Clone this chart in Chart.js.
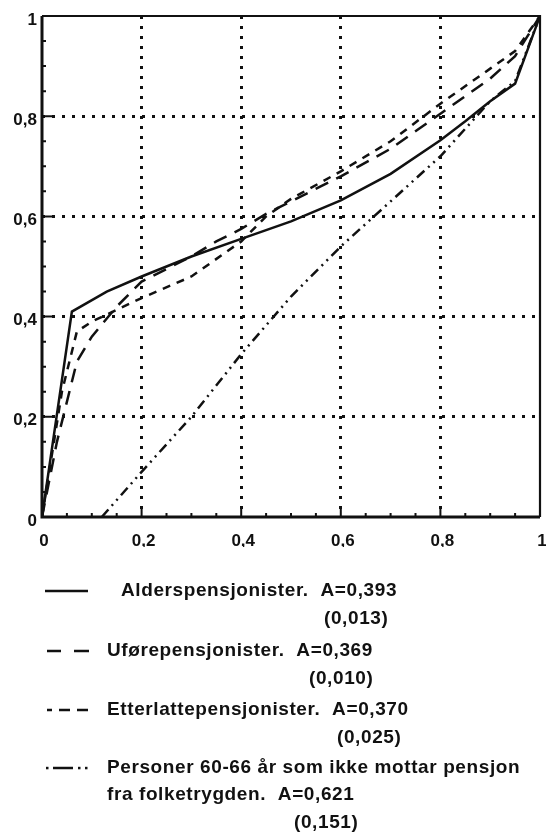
<!DOCTYPE html>
<html>
<head>
<meta charset="utf-8">
<script src="https://cdn.jsdelivr.net/npm/chart.js@4"></script>
<style>
  html, body { margin: 0; padding: 0; background: #fff; }
  #chart { display: block; }
</style>
</head>
<body>
<canvas id="chart" width="546" height="833"></canvas>
<script>
// tick labels (Norwegian decimal comma)
const tickLabels = ['0', '0,2', '0,4', '0,6', '0,8', '1'];

// Lorenz curves
const alderX = [0, 0.06, 0.13, 0.2, 0.3, 0.4, 0.5, 0.6, 0.7, 0.8, 0.85, 0.9, 0.95, 1];
const alderY = [0, 0.41, 0.45, 0.48, 0.52, 0.555, 0.59, 0.632, 0.685, 0.752, 0.79, 0.83, 0.865, 1];

const uforeX = [0, 0.03, 0.07, 0.1, 0.15, 0.2, 0.3, 0.35, 0.4, 0.45, 0.5, 0.6, 0.7, 0.8, 0.9, 0.95, 1];
const uforeY = [0, 0.15, 0.31, 0.36, 0.42, 0.47, 0.52, 0.55, 0.575, 0.605, 0.63, 0.68, 0.735, 0.805, 0.875, 0.92, 1];

const etterX = [0, 0.04, 0.07, 0.1, 0.2, 0.3, 0.4, 0.45, 0.5, 0.6, 0.7, 0.8, 0.9, 0.95, 1];
const etterY = [0, 0.25, 0.37, 0.39, 0.437, 0.48, 0.55, 0.6, 0.635, 0.69, 0.75, 0.825, 0.895, 0.93, 1];

const personerX = [0.12, 0.2, 0.3, 0.4, 0.5, 0.6, 0.7, 0.8, 0.85, 0.9, 0.95, 1];
const personerY = [0, 0.09, 0.2, 0.325, 0.44, 0.54, 0.63, 0.72, 0.775, 0.83, 0.87, 1];

const seriesNames = [
  'Alderspensjonister.  A=0,393',
  'Uførepensjonister.  A=0,369',
  'Etterlattepensjonister.  A=0,370',
  'Personer 60-66 år som ikke mottar pensjon'
];
const seriesNotes = ['(0,013)', '(0,010)', '(0,025)', '(0,151)'];
const extraLine = 'fra folketrygden.  A=0,621';

const dashes = [[], [14, 9], [8, 7], [10, 5, 2, 5, 2, 5]];

const FONT = '"Liberation Sans", Arial, sans-serif';
const INK = '#111';

function pts(xs, ys) {
  return xs.map((x, i) => ({ x: x, y: ys[i] }));
}

const isMajor = v => Math.abs(v * 5 - Math.round(v * 5)) < 1e-6;
const innerGrid = ctx => {
  const v = ctx.tick.value;
  return (v > 0.01 && v < 0.99) ? INK : 'rgba(0,0,0,0)';
};

const framePlugin = {
  id: 'frame',
  afterDatasetsDraw(chart) {
    const { ctx, chartArea: a, scales } = chart;
    ctx.save();
    ctx.strokeStyle = INK;
    ctx.lineCap = 'butt';
    // left and bottom axes heavier
    ctx.lineWidth = 3;
    ctx.beginPath();
    ctx.moveTo(a.left, a.top); ctx.lineTo(a.left, a.bottom); ctx.lineTo(a.right, a.bottom);
    ctx.stroke();
    ctx.lineWidth = 2.2;
    ctx.beginPath();
    ctx.moveTo(a.left, a.top); ctx.lineTo(a.right, a.top); ctx.lineTo(a.right, a.bottom);
    ctx.stroke();
    // inward ticks every 0.05
    ctx.lineWidth = 2;
    for (let k = 1; k < 20; k++) {
      const v = k / 20;
      const len = isMajor(v) ? 10 : 4;
      const px = scales.x.getPixelForValue(v);
      const py = scales.y.getPixelForValue(v);
      ctx.beginPath();
      ctx.moveTo(px, a.bottom); ctx.lineTo(px, a.bottom - len);
      ctx.moveTo(a.left, py); ctx.lineTo(a.left + len, py);
      ctx.stroke();
    }
    ctx.restore();
  },
  afterDraw(chart) {
    const ctx = chart.ctx;
    ctx.save();
    ctx.fillStyle = INK;
    ctx.strokeStyle = INK;
    ctx.font = 'bold 19px ' + FONT;
    ctx.letterSpacing = '0.6px';
    ctx.textBaseline = 'middle';
    const rows = [591, 651, 710, 768];
    const textX = [121, 107, 107, 107];
    const noteX = [324, 309, 337, 294];
    rows.forEach((y, i) => {
      ctx.lineWidth = 2.5;
      ctx.setLineDash([]);
      ctx.beginPath();
      if (i === 3) {
        ctx.moveTo(53, y); ctx.lineTo(73, y);
        ctx.stroke();
        [47, 79, 86].forEach(dx => { ctx.fillRect(dx - 1, y - 1.2, 2.5, 2.5); });
      } else if (i === 1) {
        ctx.moveTo(47, y); ctx.lineTo(61, y); ctx.moveTo(74, y); ctx.lineTo(89, y);
        ctx.stroke();
      } else if (i === 2) {
        ctx.moveTo(47, y); ctx.lineTo(52, y);
        ctx.moveTo(59, y); ctx.lineTo(70, y);
        ctx.moveTo(77, y); ctx.lineTo(88, y);
        ctx.stroke();
      } else {
        ctx.moveTo(45, y); ctx.lineTo(88, y);
        ctx.stroke();
      }
      ctx.fillText(seriesNames[i], textX[i], y);
      if (i === 3) {
        ctx.fillText(extraLine, textX[i], y + 27);
        ctx.fillText(seriesNotes[i], noteX[i], y + 55);
      } else {
        ctx.fillText(seriesNotes[i], noteX[i], y + 28);
      }
    });
    ctx.restore();
  }
};

const seriesX = [alderX, uforeX, etterX, personerX];
const seriesY = [alderY, uforeY, etterY, personerY];

new Chart(document.getElementById('chart').getContext('2d'), {
  type: 'scatter',
  data: {
    datasets: seriesNames.map((name, i) => ({
      label: name,
      data: pts(seriesX[i], seriesY[i]),
      showLine: true,
      borderColor: INK,
      borderWidth: 2.5,
      borderDash: dashes[i],
      pointRadius: 0,
      tension: 0
    }))
  },
  options: {
    responsive: false,
    animation: false,
    layout: { padding: { left: 4, right: 6, top: 16, bottom: 286 } },
    plugins: { legend: { display: false }, tooltip: { enabled: false } },
    scales: {
      x: {
        type: 'linear', min: 0, max: 1,
        afterFit: s => { s.height = 30; s.paddingLeft = 0; s.paddingRight = 0; },
        grid: { color: innerGrid, lineWidth: 3, drawTicks: false },
        border: { display: false, dash: [3, 7] },
        ticks: {
          stepSize: 0.2, padding: 14, color: INK, labelOffset: 2,
          font: { family: FONT, size: 17, weight: 'bold' },
          callback: v => tickLabels[Math.round(v * 5)]
        }
      },
      y: {
        type: 'linear', min: 0, max: 1,
        afterFit: s => { s.width = 38; s.paddingTop = 0; s.paddingBottom = 0; },
        grid: { color: innerGrid, lineWidth: 3, drawTicks: false },
        border: { display: false, dash: [3, 7] },
        ticks: {
          stepSize: 0.2, padding: 5, color: INK, labelOffset: 4,
          font: { family: FONT, size: 17, weight: 'bold' },
          callback: v => tickLabels[Math.round(v * 5)]
        }
      }
    }
  },
  plugins: [framePlugin]
});
</script>
</body>
</html>
